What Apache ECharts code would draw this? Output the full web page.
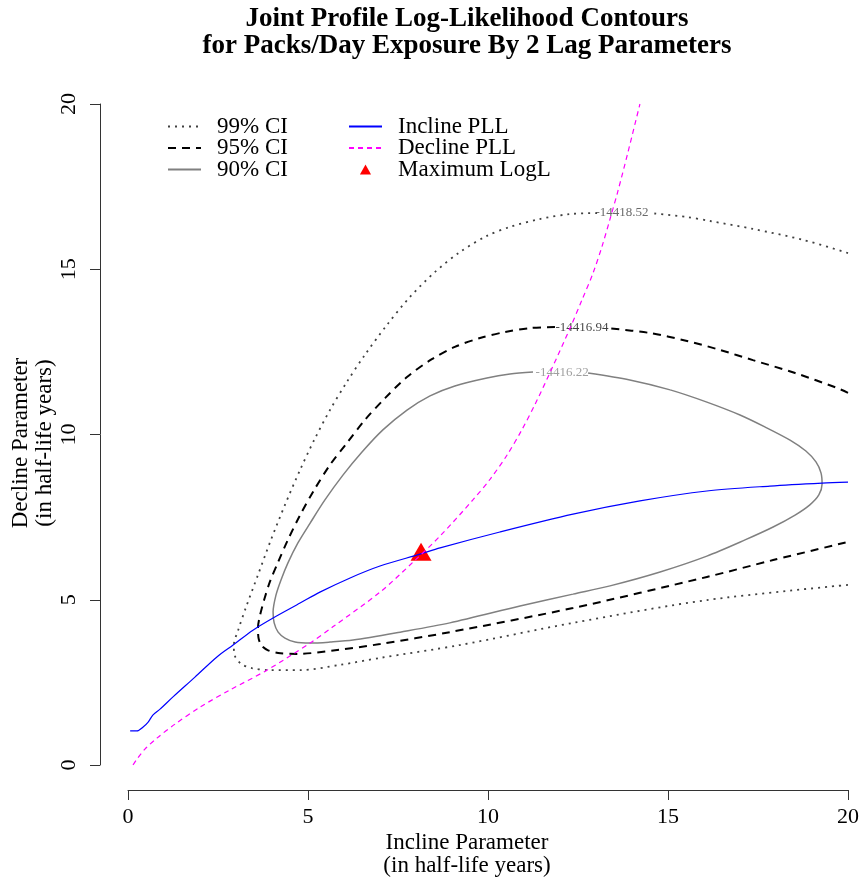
<!DOCTYPE html>
<html>
<head>
<meta charset="utf-8">
<script src="https://cdn.jsdelivr.net/npm/echarts@6/dist/echarts.min.js"></script>
<style>
html,body{margin:0;padding:0;background:#fff;}
#chart{width:862px;height:882px;}
</style>
</head>
<body>
<div id="chart"></div>
<script>
// ---- data (Incline parameter, Decline parameter) ----
const ci99A = [[20.00,15.49],[18.75,15.89],[17.36,16.22],[16.17,16.46],[15.53,16.58],[14.50,16.70]];
const ci99B = [[13.03,16.70],[12.28,16.67],[11.44,16.52],[10.61,16.28],[9.97,16.01],[9.22,15.52],[8.53,14.92],[7.83,14.16],[7.19,13.31],[6.58,12.41],[6.08,11.59],[5.61,10.74],[5.17,9.83],[4.78,8.93],[4.36,7.87],[3.97,6.81],[3.61,5.75],[3.28,4.78],[3.06,4.08],[2.94,3.63],[2.97,3.30],[3.14,3.06],[3.44,2.93],[3.94,2.87],[4.78,2.87],[5.89,3.03],[7.00,3.24],[9.22,3.63],[12.36,4.30],[16.08,4.99],[20.00,5.45]];
const ci95A = [[20.00,11.26],[19.69,11.41],[18.53,11.86],[17.36,12.25],[16.44,12.56],[15.53,12.83],[14.50,13.07],[13.31,13.22]];
const ci95B = [[11.86,13.25],[11.17,13.22],[10.47,13.10],[9.78,12.92],[9.08,12.65],[8.44,12.28],[7.75,11.74],[7.14,11.10],[6.58,10.44],[6.08,9.74],[5.61,9.08],[5.17,8.32],[4.78,7.56],[4.44,6.81],[4.17,6.14],[3.94,5.54],[3.78,4.99],[3.67,4.54],[3.61,4.15],[3.63,3.82],[3.72,3.60],[3.89,3.47],[4.17,3.39],[4.69,3.36],[5.81,3.48],[7.00,3.66],[8.94,4.02],[12.36,4.75],[16.08,5.69],[17.92,6.20],[20.00,6.75]];
const ci90 = [[12.78,11.86],[13.94,11.65],[15.06,11.35],[16.08,10.98],[17.00,10.59],[17.69,10.23],[18.39,9.83],[18.83,9.50],[19.11,9.17],[19.25,8.84],[19.28,8.50],[19.19,8.17],[18.94,7.87],[18.53,7.56],[17.92,7.20],[17.14,6.81],[16.08,6.32],[14.78,5.84],[13.39,5.42],[12.36,5.17],[10.89,4.81],[8.94,4.30],[7.56,4.02],[6.25,3.78],[5.61,3.72],[5.06,3.69],[4.64,3.72],[4.36,3.84],[4.17,4.02],[4.06,4.30],[4.03,4.63],[4.11,5.14],[4.25,5.60],[4.44,6.11],[4.72,6.72],[5.06,7.32],[5.47,8.02],[5.97,8.77],[6.50,9.47],[7.08,10.14],[7.75,10.74],[8.39,11.17],[9.08,11.47],[9.97,11.71],[10.61,11.83],[11.25,11.89]];
const inclinePLL = [[0.06,1.03],[0.25,1.03],[0.42,1.15],[0.56,1.30],[0.69,1.51],[0.89,1.69],[1.25,2.06],[1.86,2.66],[2.47,3.27],[2.92,3.63],[3.47,4.08],[4.03,4.45],[4.78,4.90],[5.33,5.23],[6.17,5.66],[7.00,6.02],[8.11,6.38],[8.67,6.57],[10.33,7.05],[12.36,7.59],[14.22,7.99],[16.08,8.29],[17.83,8.44],[19.28,8.53],[20.00,8.56]];
const declinePLL = [[0.14,0.00],[0.25,0.18],[0.47,0.48],[0.81,0.82],[1.31,1.24],[2.00,1.75],[2.83,2.27],[3.86,2.87],[5.06,3.69],[5.69,4.18],[7.00,5.23],[7.92,6.14],[8.67,6.93],[9.58,8.02],[10.06,8.65],[10.53,9.38],[10.94,10.14],[11.31,10.92],[11.78,12.01],[12.28,13.22],[12.61,14.07],[12.92,14.89],[13.17,15.70],[13.39,16.52],[13.61,17.37],[13.89,18.55],[14.22,20.00]];
const maxLogL = [[8.14,6.45]];
const contourLabelText = ['-14418.52','-14416.94','-14416.22'];
const contourLabelPos = [[13.72,16.70],[12.61,13.25],[12.06,11.86]];
const xTicks = [0,5,10,15,20];
const yTicks = [0,5,10,15,20];

const FONT = "'Liberation Serif', 'Times New Roman', serif";
const labelColors = ['#444444','#111111','#888888'];

const chart = echarts.init(document.getElementById('chart'), null, {renderer:'canvas'});

function lineSeries(name, data, ls, z, smooth){
  return {type:'line', name:name, data:data, symbol:'none', showSymbol:false, smooth:smooth,
    lineStyle:ls, itemStyle:{color:ls.color}, z:z, silent:true, animation:false};
}
const dotted = {color:'#404040', width:1.8, type:[2,5], cap:'butt'};
const dashed = {color:'#000000', width:2, type:[8,6], cap:'butt'};
const solidGray = {color:'#808080', width:1.5, type:'solid'};
const hidden = {opacity:0};
const TRI = 'path://M5,0 L10,9 L0,9 Z';

const option = {
  animation:false,
  backgroundColor:'#ffffff',
  grid:{left:128, right:14, top:104, bottom:117, containLabel:false},
  xAxis:{type:'value', min:xTicks[0], max:xTicks[xTicks.length-1], interval:5, offset:25,
    axisLine:{show:true, onZero:false, lineStyle:{color:'#333', width:1}},
    axisTick:{show:true, length:10, lineStyle:{color:'#333'}},
    axisLabel:{fontFamily:FONT, fontSize:22, color:'#000', margin:16},
    splitLine:{show:false}},
  yAxis:{type:'value', min:yTicks[0], max:yTicks[yTicks.length-1], interval:5, offset:28,
    axisLine:{show:true, onZero:false, lineStyle:{color:'#333', width:1}},
    axisTick:{show:true, length:10, lineStyle:{color:'#333'}},
    axisLabel:{fontFamily:FONT, fontSize:22, color:'#000', margin:20, rotate:90},
    splitLine:{show:false}},
  legend:[
    {orient:'vertical', left:167, top:115, padding:0, itemWidth:33, itemHeight:10, itemGap:-1.5,
     symbolKeepAspect:true,
     data:[{name:'99% CI', itemStyle:hidden},{name:'95% CI', itemStyle:hidden},{name:'90% CI', itemStyle:hidden}],
     textStyle:{fontFamily:FONT, fontSize:23, color:'#000', lineHeight:20, padding:[0,0,0,11]}},
    {orient:'vertical', left:348, top:115, padding:0, itemWidth:33, itemHeight:10, itemGap:-1.5,
     symbolKeepAspect:true,
     data:[{name:'Incline PLL', itemStyle:hidden},{name:'Decline PLL', itemStyle:hidden},{name:'Maximum LogL', icon:TRI}],
     textStyle:{fontFamily:FONT, fontSize:23, color:'#000', lineHeight:20, padding:[0,0,0,11]}}
  ],
  series:[
    lineSeries('99% CI', ci99A, dotted, 2, 0.3),
    lineSeries('99% CI', ci99B, dotted, 2, 0.3),
    lineSeries('95% CI', ci95A, dashed, 2, 0.3),
    lineSeries('95% CI', ci95B, dashed, 2, 0.3),
    lineSeries('90% CI', ci90, solidGray, 2, 0.3),
    {type:'scatter', name:'contour labels', z:3, silent:true, symbolSize:0,
     data:contourLabelPos.map((p,i)=>({value:p, label:{color:labelColors[i]}})),
     label:{show:true, position:'inside', fontFamily:FONT, fontSize:13,
       formatter:(p)=>contourLabelText[p.dataIndex]}},
    {type:'scatter', name:'Maximum LogL', data:maxLogL, symbol:'triangle', symbolSize:[21,18],
     itemStyle:{color:'#ff0000', opacity:1}, z:3, silent:true},
    {type:'line', name:'Incline PLL', data:inclinePLL, symbol:'none', showSymbol:false, smooth:0.3,
     lineStyle:{color:'#0000ff', width:1.2}, itemStyle:{color:'#0000ff'}, z:4, silent:true},
    {type:'line', name:'Decline PLL', data:declinePLL, symbol:'none', showSymbol:false, smooth:0.3,
     lineStyle:{color:'#ff00ff', width:1.2, type:[5,4]}, itemStyle:{color:'#ff00ff'}, z:4, silent:true}
  ],
  graphic:[
    {type:'text', x:467, y:19, style:{text:'Joint Profile Log-Likelihood Contours', font:"bold 27px 'Liberation Serif', serif", fill:'#000', textAlign:'center', textVerticalAlign:'middle'}},
    {type:'text', x:467, y:46, style:{text:'for Packs/Day Exposure By 2 Lag Parameters', font:"bold 27px 'Liberation Serif', serif", fill:'#000', textAlign:'center', textVerticalAlign:'middle'}},
    {type:'text', x:467, y:843, style:{text:'Incline Parameter', font:"23px 'Liberation Serif', serif", fill:'#000', textAlign:'center', textVerticalAlign:'middle'}},
    {type:'text', x:467, y:866, style:{text:'(in half-life years)', font:"23px 'Liberation Serif', serif", fill:'#000', textAlign:'center', textVerticalAlign:'middle'}},
    {type:'text', x:21, y:443, rotation:Math.PI/2, style:{text:'Decline Parameter', font:"23px 'Liberation Serif', serif", fill:'#000', textAlign:'center', textVerticalAlign:'middle'}},
    {type:'text', x:45, y:443, rotation:Math.PI/2, style:{text:'(in half-life years)', font:"23px 'Liberation Serif', serif", fill:'#000', textAlign:'center', textVerticalAlign:'middle'}}
  ]
};
chart.setOption(option);
</script>
</body>
</html>
